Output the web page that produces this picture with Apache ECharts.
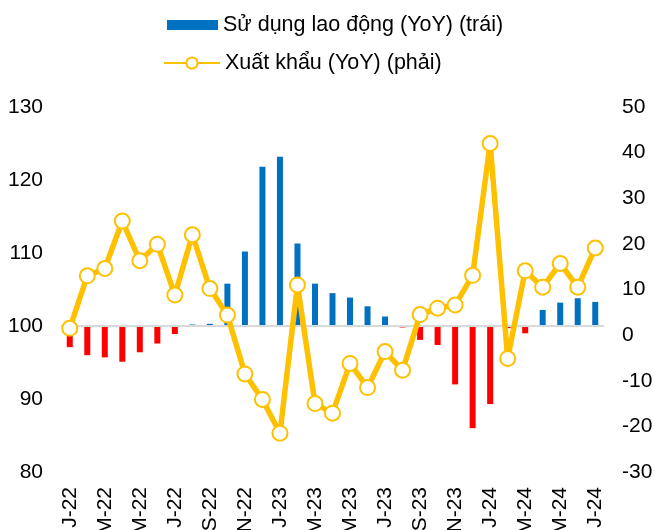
<!DOCTYPE html>
<html>
<head>
<meta charset="utf-8">
<script src="https://cdn.jsdelivr.net/npm/echarts@6/dist/echarts.min.js"></script>
<style>html,body{margin:0;padding:0;background:#fff}#c{width:654px;height:530px}</style>
</head>
<body>
<div id="c"></div>
<script>
// Month categories Jan-22 .. Jul-24
const categories = ["J-22","F-22","M-22","A-22","M-22","J-22","J-22","A-22","S-22","O-22","N-22","D-22",
  "J-23","F-23","M-23","A-23","M-23","J-23","J-23","A-23","S-23","O-23","N-23","D-23",
  "J-24","F-24","M-24","A-24","M-24","J-24","J-24"];
// Employment index (YoY, 100 = unchanged) - left axis
const employment = [97.1,96.0,95.7,95.1,96.4,97.6,98.9,100.2,100.3,105.8,110.2,121.8,
  123.2,111.3,105.8,104.5,103.9,102.7,101.3,99.8,98.1,97.4,92.0,86.0,
  89.3,99.7,99.0,102.2,103.2,103.8,103.3];
// Exports YoY % - right axis
const exports = [1.5,13.0,14.6,25.0,16.3,19.9,8.8,22.0,10.2,4.4,-8.5,-14.1,
  -21.5,11.0,-15.0,-17.1,-6.2,-11.5,-3.6,-7.7,4.5,5.9,6.6,13.1,
  42.0,-5.1,14.1,10.5,15.7,10.5,19.1];
const leftTicks = [80,130,10];
const rightTicks = [-30,50,10];
const baseLevel = 100;
const nameBar = "Sử dụng lao động (YoY) (trái)";
const nameLine = "Xuất khẩu (YoY) (phải)";

const BLUE = "#0070C0", RED = "#FF0000", YEL = "#FFC000";
const FONT = "Liberation Sans, Arial, sans-serif";

const baseData = employment.map(v => Math.min(v, baseLevel));
const deltaData = employment.map(v => ({
  value: Math.abs(v - baseLevel),
  itemStyle: { color: v >= baseLevel ? BLUE : RED }
}));

const chart = echarts.init(document.getElementById('c'), null, {renderer: 'canvas'});
chart.setOption({
  animation: false,
  backgroundColor: '#fff',
  textStyle: { fontFamily: FONT },
  legend: [
    {
      data: [{ name: nameBar, itemStyle: { color: BLUE } }],
      left: 167, top: 14, padding: 0, itemWidth: 51, itemHeight: 10,
      icon: 'rect',
      textStyle: { fontSize: 21.5, color: '#000', fontFamily: FONT }
    },
    {
      data: [{ name: nameLine }],
      left: 163, top: 52, padding: 0, itemWidth: 56, itemHeight: 14,
      textStyle: { fontSize: 21.5, color: '#000', fontFamily: FONT }
    }
  ],
  grid: { left: 61, right: 50, top: 107, bottom: 58, containLabel: false, outerBoundsMode: 'none' },
  xAxis: {
    type: 'category',
    data: categories,
    boundaryGap: true,
    axisLine: { show: false },
    axisTick: { show: false },
    axisLabel: {
      interval: 1, rotate: 90, margin: 15, fontSize: 21, color: '#000', fontFamily: FONT
    },
    splitLine: { show: false }
  },
  yAxis: [
    {
      type: 'value', min: leftTicks[0], max: leftTicks[1], interval: leftTicks[2],
      axisLine: { show: false }, axisTick: { show: false }, splitLine: { show: false },
      axisLabel: { fontSize: 21, color: '#000', margin: 18, fontFamily: FONT }
    },
    {
      type: 'value', min: rightTicks[0], max: rightTicks[1], interval: rightTicks[2],
      axisLine: { show: false }, axisTick: { show: false }, splitLine: { show: false },
      axisLabel: { fontSize: 21, color: '#000', margin: 18, fontFamily: FONT }
    }
  ],
  series: [
    {
      name: '_base', type: 'bar', stack: 'emp', yAxisIndex: 0,
      data: baseData, barWidth: 6,
      itemStyle: { color: 'rgba(0,0,0,0)' }, silent: true,
      markLine: {
        silent: true, symbol: 'none', label: { show: false },
        lineStyle: { color: '#D9D9D9', width: 2, type: 'solid' },
        data: [{ yAxis: baseLevel }]
      }
    },
    {
      name: nameBar, type: 'bar', stack: 'emp', yAxisIndex: 0,
      data: deltaData, barWidth: 6,
      itemStyle: { color: BLUE }
    },
    {
      name: nameLine, type: 'line', yAxisIndex: 1,
      data: exports, z: 5,
      symbol: 'circle', symbolSize: 15, showSymbol: true, showAllSymbol: true,
      lineStyle: { color: YEL, width: 5.5 },
      itemStyle: { color: '#fff', borderColor: YEL, borderWidth: 2 }
    }
  ]
});
</script>
</body>
</html>
